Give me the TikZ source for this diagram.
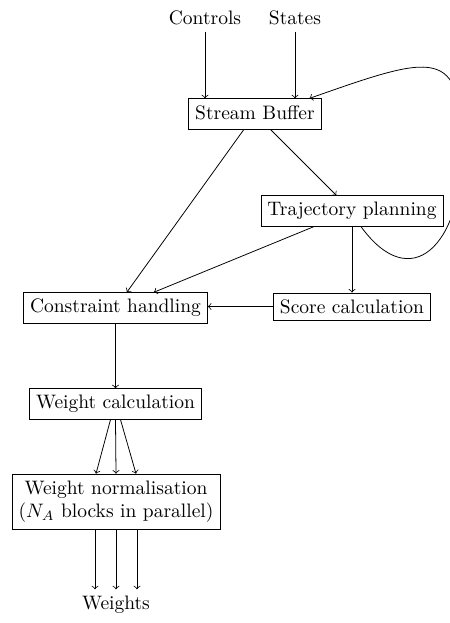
\documentclass[tikz,border=0pt]{standalone}
\usetikzlibrary{calc}
\begin{document}
\begin{tikzpicture}[x=0.5128pt,y=-0.5128pt,
  blk/.style={draw,inner sep=0.3333em},
  lbl/.style={inner sep=0.3333em},
  >=to]
\useasboundingbox (0,0) rectangle (449,623);
\node[lbl] (ctrl) at (205,18) {Controls};
\node[lbl] (st) at (295,18) {States};
\node[blk,text depth=1.9pt] (sb) at (255,114) {Stream Buffer};
\node[blk] (tp) at (352,211) {Trajectory planning};
\node[blk] (sc) at (352,306.5) {Score calculation};
\node[blk] (ch) at (115.5,308) {Constraint handling};
\node[blk] (wc) at (115.5,404) {Weight calculation};
\node[blk,align=center] (wn) at (116,501.5) {Weight normalisation\\($N_A$ blocks in parallel)};
\node[lbl] (w) at (116,605) {Weights};
\coordinate (loopR) at (462,150);

\draw[->] (ctrl) -- (ctrl |- sb.north);
\draw[->] (st) -- (st |- sb.north);
\draw[->] (sb) -- (ch);
\draw[->] (sb) -- (tp);
\draw[->] (tp) -- (ch);
\draw[->] (tp) -- (sc);
\draw[->] (sc.west) -- (sc.west -| ch.east);
\draw[->] (ch) -- (wc);
\draw[->] ($(wc.south)+(-5,0)$) -- ($(wn.north)+(-20,0)$);
\draw[->] (wc.south) -- (wn.north);
\draw[->] ($(wc.south)+(5,0)$) -- ($(wn.north)+(20,0)$);
\draw[->] ($(wn.south)+(-21,0)$) -- ($(w.north)+(-21,0)$);
\draw[->] (wn.south) -- (w.north);
\draw[->] ($(wn.south)+(21,0)$) -- ($(w.north)+(21,0)$);
\draw[->] (tp.-60) .. controls +(50,69) and +(0,95) .. (loopR)
  .. controls +(0,-105) and +(125,-44) .. (sb.16);
\end{tikzpicture}
\end{document}
